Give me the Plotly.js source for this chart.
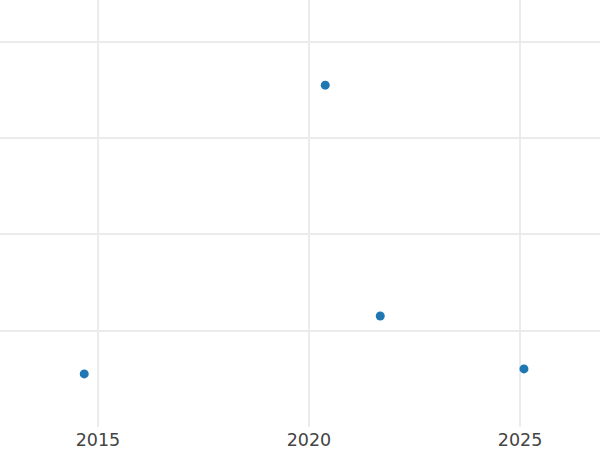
<!DOCTYPE html>
<html>
<head>
<meta charset="utf-8">
<script src="https://cdn.plot.ly/plotly-3.0.1.min.js"></script>
<style>html,body{margin:0;padding:0;background:#fff;}#chart{width:600px;height:450px;}</style>
</head>
<body>
<div id="chart"></div>
<script>
var dates = ["2014-09-04", "2020-05-21", "2021-09-09", "2025-02-04"];
var values = [0.551, 3.549, 1.152, 0.603];
var xTickVals = ["2015-01-01", "2020-01-01", "2025-01-01"];
var xTickText = ["2015", "2020", "2025"];
var yTickVals = [1, 2, 3, 4];

var trace = {
  x: dates,
  y: values,
  type: "scatter",
  mode: "markers",
  marker: {color: "#1f77b4", size: 9},
  hoverinfo: "x+y"
};

var layout = {
  width: 600,
  height: 450,
  margin: {l: 0, r: 0, t: 0, b: 23, pad: 0},
  paper_bgcolor: "#ffffff",
  plot_bgcolor: "#ffffff",
  showlegend: false,
  font: {family: "DejaVu Sans", size: 17, color: "#444444"},
  xaxis: {
    type: "date",
    range: ["2012-09-05", "2026-11-24"],
    tickvals: xTickVals,
    ticktext: xTickText,
    showgrid: true,
    gridcolor: "#ebebeb",
    gridwidth: 2,
    zeroline: false,
    showline: false,
    ticks: "",
    tickfont: {family: "DejaVu Sans", size: 17.5, color: "#444444"}
  },
  yaxis: {
    range: [0, 4.433],
    tickvals: yTickVals,
    showticklabels: false,
    showgrid: true,
    gridcolor: "#ebebeb",
    gridwidth: 2,
    zeroline: false,
    showline: false,
    ticks: ""
  }
};

Plotly.newPlot("chart", [trace], layout, {displayModeBar: false, staticPlot: true});
</script>
</body>
</html>
